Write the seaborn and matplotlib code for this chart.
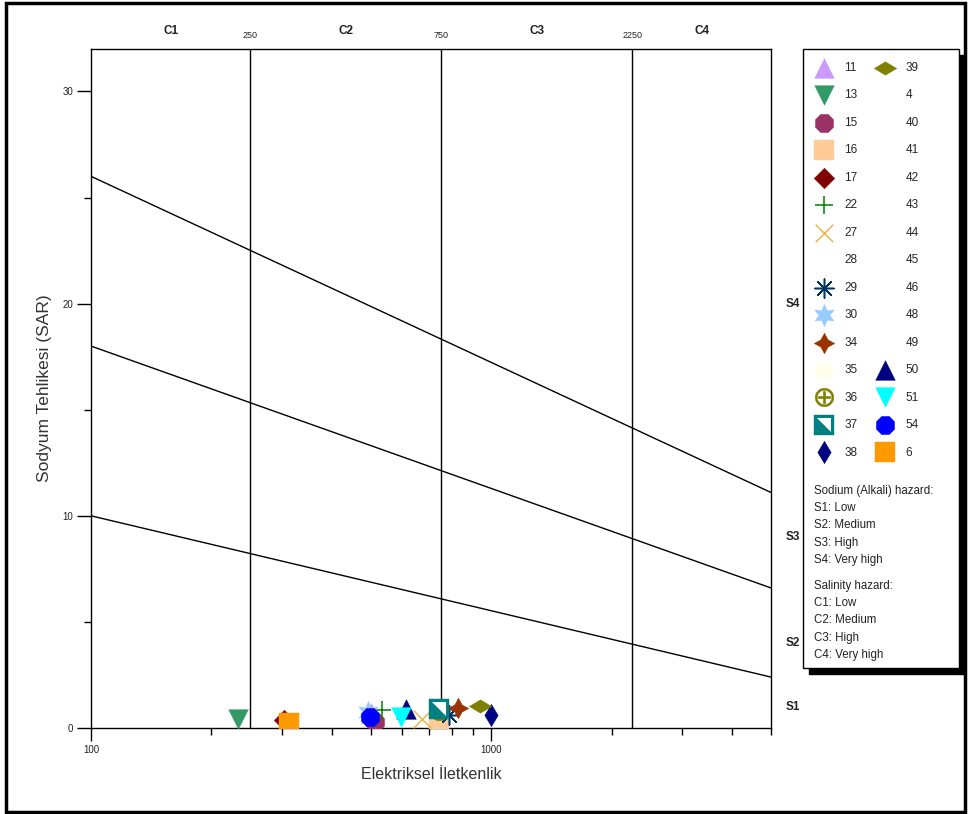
import numpy as np
import pandas as pd
import matplotlib
matplotlib.use("Agg")
import matplotlib.pyplot as plt
import seaborn as sns
from matplotlib.patches import Rectangle
from matplotlib.markers import MarkerStyle
from matplotlib.transforms import Affine2D, blended_transform_factory
from matplotlib.ticker import FixedLocator, NullFormatter, FuncFormatter
from matplotlib.legend_handler import HandlerTuple

# Samples (legend order) with electrical conductivity and SAR
SAMPLES = ["11", "13", "15", "16", "17", "22", "27", "28", "29", "30",
           "34", "35", "36", "37", "38", "39", "4", "40", "41", "42",
           "43", "44", "45", "46", "48", "49", "50", "51", "54", "6"]
EC = [500, 233, 511, 740, 303, 532, 671, 560, 783, 491,
      826, 620, 740, 740, 1000, 938, 480, 520, 640, 700,
      760, 820, 880, 600, 660, 900, 611, 594, 497, 313]
SAR = [0.70, 0.42, 0.30, 0.35, 0.38, 0.85, 0.42, 0.50, 0.60, 0.75,
       0.94, 0.40, 0.80, 0.90, 0.60, 1.04, 0.40, 0.50, 0.60, 0.50,
       0.70, 0.60, 0.80, 0.40, 0.50, 0.90, 0.90, 0.54, 0.52, 0.24]

# Diagram boundaries
EC_RANGE = [100, 5000]
EC_LIMITS = [250, 750, 2250]
S1_S2 = [10.0, 2.4]
S2_S3 = [18.0, 6.6]
S3_S4 = [26.0, 11.1]
C_LABELS = ["C1", "C2", "C3", "C4"]
S_LABELS = ["S1", "S2", "S3", "S4"]
S_LABEL_SAR = [1, 4, 9, 20]
HAZARD_TEXT = ["Sodium (Alkali) hazard:", "S1: Low", "S2: Medium", "S3: High", "S4: Very high",
               "Salinity hazard:", "C1: Low", "C2: Medium", "C3: High", "C4: Very high"]

# marker, colour per sample
STYLE = {
    "11": ("^", "#cc99ff"), "13": ("v", "#339966"), "15": ("8", "#993366"),
    "16": ("s", "#ffcc99"), "17": ("D", "#800000"), "22": ("+", "#008000"),
    "27": ("x", "#e8b84a"), "28": ("o", "#ffffff"), "29": ((8, 2, 0), "#003366"),
    "30": ((6, 1, 0), "#99ccff"), "34": ((4, 1, 0), "#993300"), "35": ("o", "#ffffee"),
    "36": (r"$\oplus$", "#808000"), "37": ("s", "#008080"), "38": ("d", "#000080"),
    "39": (MarkerStyle("d", transform=Affine2D().rotate_deg(90)), "#808000"),
    "50": ("^", "#000080"), "51": ("v", "#00ffff"),
    "54": ("8", "#0000ff"), "6": ("s", "#ff9900"),
}
SIZES = {"17": 110, "34": 220, "30": 260, "29": 190, "36": 180, "38": 130, "39": 130,
         "27": 160, "22": 180}

df = pd.DataFrame({"sample": SAMPLES, "EC": EC, "SAR": SAR})

sns.set_theme(style="ticks")
plt.rcParams["font.family"] = ["Liberation Sans", "DejaVu Sans"]

fig = plt.figure(figsize=(9.69, 8.14), dpi=100)
ax = fig.add_axes([91 / 969, 1 - 728 / 814, 680 / 969, 679 / 814])
ax.set_xscale("log")

# hazard class boundaries
for yy in (S1_S2, S2_S3, S3_S4):
    sns.lineplot(x=EC_RANGE, y=yy, color="black", lw=1, ax=ax, zorder=2)
for lim in EC_LIMITS:
    ax.axvline(lim, color="black", lw=1, zorder=2)

tri_verts = [(-1, 1), (1, 1), (1, -1)]
handles = []
for s in SAMPLES:
    sub = df[df["sample"] == s]
    marker, color = STYLE.get(s, ("o", "#ffffff"))
    size = SIZES.get(s, 200)
    white = color.lower() in ("#ffffff", "#ffffee")
    z = 1 if white else 3
    if (isinstance(marker, str) and marker in ("+", "x")) or (isinstance(marker, tuple) and marker[1] == 2):
        sns.scatterplot(data=sub, x="EC", y="SAR", marker=marker, color=color,
                        s=size, linewidth=1.1, legend=False, ax=ax, zorder=z)
    else:
        sns.scatterplot(data=sub, x="EC", y="SAR", marker=marker, color=color,
                        edgecolor=color, s=size, linewidth=0.3, legend=False, ax=ax, zorder=z)
    h = ax.collections[-1]
    if s == "37":
        sns.scatterplot(data=sub, x="EC", y="SAR", marker=tri_verts, color="white",
                        edgecolor="white", s=size * 0.45, linewidth=0, legend=False, ax=ax, zorder=z)
        h = (h, ax.collections[-1])
    handles.append(h)

ax.set_xlim(EC_RANGE)
ax.set_ylim(0, 32)
ax.xaxis.set_major_locator(FixedLocator([100, 1000]))
ax.xaxis.set_major_formatter(FuncFormatter(lambda v, p: f"{v:.0f}"))
ax.xaxis.set_minor_locator(FixedLocator([200, 300, 400, 500, 600, 700, 800, 900,
                                         2000, 3000, 4000, 5000]))
ax.xaxis.set_minor_formatter(NullFormatter())
ax.yaxis.set_major_locator(FixedLocator([0, 10, 20, 30]))
ax.yaxis.set_minor_locator(FixedLocator([5, 15, 25]))
ax.tick_params(axis="both", which="both", direction="out", color="black",
               labelsize=7, labelcolor="#222222", width=1)
ax.tick_params(axis="y", which="major", length=10, pad=3)
ax.tick_params(axis="y", which="minor", length=5)
ax.tick_params(axis="x", which="major", length=9, pad=3)
ax.tick_params(axis="x", which="minor", length=5)
for sp in ax.spines.values():
    sp.set_color("black")
    sp.set_linewidth(1)

ax.set_xlabel("Elektriksel İletkenlik", fontsize=11.5, color="#333333", labelpad=9)
ax.set_ylabel("Sodyum Tehlikesi (SAR)", fontsize=12.5, color="#333333", labelpad=7)

# class labels above and to the right of the plot
tr = blended_transform_factory(ax.transData, ax.transAxes)
bounds = [EC_RANGE[0]] + EC_LIMITS + [EC_RANGE[1]]
for i, lab in enumerate(C_LABELS):
    xc = np.sqrt(bounds[i] * bounds[i + 1])
    ax.text(xc, 1.027, lab, transform=tr, ha="center", va="center",
            fontsize=8.5, fontweight="bold", color="#222222")
for lim in EC_LIMITS:
    ax.text(lim, 1.02, str(lim), transform=tr, ha="center", va="center",
            fontsize=6.5, color="#222222")
tr2 = blended_transform_factory(ax.transAxes, ax.transData)
for lab, yv in zip(S_LABELS, S_LABEL_SAR):
    ax.text(1.022, yv, lab, transform=tr2, ha="left", va="center",
            fontsize=8.5, fontweight="bold", color="#222222")

# legend box with shadow
fig.add_artist(Rectangle((809 / 969, 1 - 674 / 814), 156 / 969, 619 / 814,
                         transform=fig.transFigure, fc="black", ec="black", zorder=1))
fig.add_artist(Rectangle((803 / 969, 1 - 668 / 814), 156 / 969, 619 / 814,
                         transform=fig.transFigure, fc="white", ec="black", lw=1, zorder=1.5))
fig.legend(handles, SAMPLES, ncol=2, loc="upper left",
           bbox_to_anchor=(812 / 969, 1 - 62 / 814), frameon=False, fontsize=8.5,
           labelspacing=1.31, columnspacing=1.3, handletextpad=0.75, borderpad=0,
           borderaxespad=0, handler_map={tuple: HandlerTuple(ndivide=1, pad=0)})
ys = [491, 508, 525, 543, 560, 586, 603, 620, 638, 655]
for t, yp in zip(HAZARD_TEXT, ys):
    fig.text(814 / 969, 1 - yp / 814, t, ha="left", va="center", fontsize=8.3, color="#222222")

# outer frame
fig.add_artist(Rectangle((0.006, 0.003), 0.99, 0.993, transform=fig.transFigure,
                         fill=False, ec="black", lw=2.5))

fig.savefig("out.png", dpi=100, facecolor="white")
